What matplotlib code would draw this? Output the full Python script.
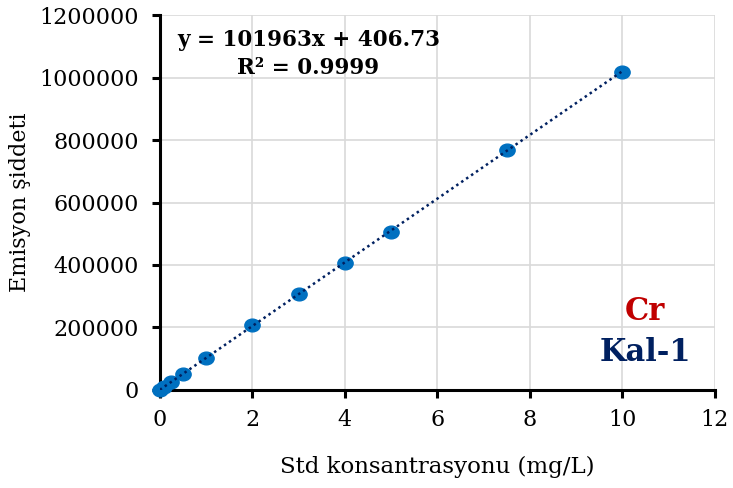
import matplotlib
matplotlib.use("Agg")
import matplotlib.pyplot as plt
from matplotlib.path import Path
from matplotlib.transforms import Affine2D
from matplotlib.ticker import FuncFormatter
import numpy as np

# calibration standards (mg/L) and emission intensity
conc = [0, 0.1, 0.25, 0.5, 1, 2, 3, 4, 5, 7.5, 10]
intensity = [600, 10500, 26000, 51500, 102500, 209000, 306500, 405000, 506000, 768000, 1019000]

# trendline from the chart label
slope = 101963
intercept = 406.73
r2 = 0.9999

x_ticks = [0, 2, 4, 6, 8, 10, 12]
y_ticks = [0, 200000, 400000, 600000, 800000, 1000000, 1200000]

plt.rcParams['font.family'] = ['DejaVu Serif']

fig = plt.figure(figsize=(7.33, 4.88), dpi=100)
ax = fig.add_axes([0.218, 0.201, 0.757, 0.768])

ax.set_xlim(0, 12)
ax.set_ylim(0, 1200000)
ax.set_xticks(x_ticks)
ax.set_yticks(y_ticks)
ax.yaxis.set_major_formatter(FuncFormatter(lambda v, p: '%d' % v))
ax.grid(color='#d9d9d9', linewidth=1.2)
ax.set_axisbelow(True)

for s in ['top', 'right']:
    ax.spines[s].set_visible(False)
for s in ['left', 'bottom']:
    ax.spines[s].set_linewidth(2.2)
ax.tick_params(direction='out', length=6, width=2.2, labelsize=16)
ax.tick_params(axis='y', pad=9)
ax.tick_params(axis='x', pad=8)

# slightly wide ellipse marker like the original
ellipse = Path.unit_circle().transformed(Affine2D().scale(1.2, 1.0))
ax.plot(conc, intensity, linestyle='none', marker=ellipse, color='#0070c0',
        markersize=11, zorder=3, clip_on=False)

# linear trendline drawn across the data range
xs = np.array([min(conc), max(conc)])
ax.plot(xs, slope * xs + intercept, linestyle=(0, (1, 1.4)), color='#002060',
        linewidth=1.8, zorder=4)

ax.text(0.268, 0.933, 'y = %dx + %.2f' % (slope, intercept), transform=ax.transAxes,
        ha='center', va='center', fontsize=15.5, fontweight='bold')
ax.text(0.268, 0.859, 'R² = %.4f' % r2, transform=ax.transAxes,
        ha='center', va='center', fontsize=15.5, fontweight='bold')

ax.text(0.875, 0.208, 'Cr', transform=ax.transAxes, ha='center', va='center',
        fontsize=22, fontweight='bold', color='#c00000')
ax.text(0.875, 0.101, 'Kal-1', transform=ax.transAxes, ha='center', va='center',
        fontsize=22, fontweight='bold', color='#002060')

ax.set_xlabel('Std konsantrasyonu (mg/L)', fontsize=16.5, labelpad=18)
ax.set_ylabel('Emisyon şiddeti', fontsize=16, labelpad=6)

fig.savefig('out.png', dpi=100)
